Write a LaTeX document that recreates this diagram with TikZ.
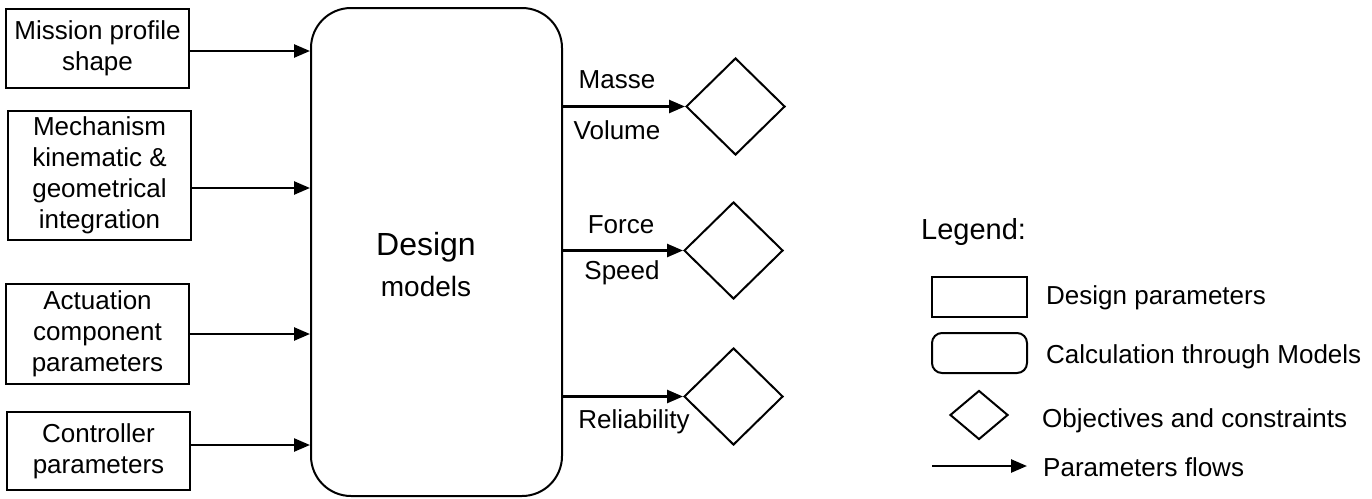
\documentclass[tikz,border=0pt]{standalone}
\usepackage{fontspec}
\setmainfont{Liberation Sans}
\usetikzlibrary{shapes.geometric,arrows.meta}
\begin{document}
\begin{tikzpicture}[x=1pt,y=-1pt,
  every node/.style={font=\fontsize{26}{31}\selectfont},
  parambox/.style={draw,line width=2pt,rectangle,inner sep=0pt,align=center},
  modelbox/.style={draw,line width=2pt,rectangle,rounded corners=40pt,inner sep=0pt,align=center},
  objective/.style={draw,line width=2pt,diamond,inner sep=0pt,aspect=1},
  flow/.style={line width=2.5pt,-{Triangle[length=16pt,width=13pt]}},
  txt/.style={inner sep=0pt}]
\useasboundingbox (0,0) rectangle (1372,498);
% inputs
\node[parambox,minimum width=183pt,minimum height=79pt] (b1) at (97.5,48.5) {Mission profile\\shape};
\node[parambox,minimum width=183pt,minimum height=129pt] (b2) at (99.5,175.5) {Mechanism\\kinematic \&\\geometrical\\integration};
\node[parambox,minimum width=183pt,minimum height=100pt] (b3) at (97.5,334) {Actuation\\component\\parameters};
\node[parambox,minimum width=183pt,minimum height=78pt] (b4) at (98.5,451) {Controller\\parameters};
% model
\node[modelbox,minimum width=251pt,minimum height=488pt] (big) at (436.5,252) {};
\node[txt,font=\fontsize{32}{40}\selectfont] (dtxt) at (426,247) {Design};
\node[txt,font=\fontsize{28}{34}\selectfont] (mtxt) at (426,286) {models};
% objectives
\node[objective,minimum width=99pt,minimum height=97pt] (d1) at (735.5,106.5) {};
\node[objective,minimum width=99pt,minimum height=97pt] (d2) at (733.5,250.5) {};
\node[objective,minimum width=99pt,minimum height=97pt] (d3) at (733.5,396.5) {};
% input flows
\draw[flow] (b1.east |- 0,51) -- (big.west |- 0,51);
\draw[flow] (b2.east |- 0,188) -- (big.west |- 0,188);
\draw[flow] (b3.east |- 0,334) -- (big.west |- 0,334);
\draw[flow] (b4.east |- 0,445) -- (big.west |- 0,445);
% output flows
\draw[flow] (big.east |- d1.west) -- (d1.west);
\draw[flow] (big.east |- d2.west) -- (d2.west);
\draw[flow] (big.east |- d3.west) -- (d3.west);
\node[txt] (l1a) at (617,80) {Masse};
\node[txt] (l1b) at (617,130) {Volume};
\node[txt] (l2a) at (621,225) {Force};
\node[txt] (l2b) at (622,273) {Speed};
\node[txt] (l3a) at (634,422) {Reliability};
% legend
\node[txt,anchor=west,font=\fontsize{29}{34}\selectfont] (leg) at (921,232) {Legend:};
\node[parambox,minimum width=95pt,minimum height=40pt] (lr) at (979.5,297) {};
\node[txt,anchor=west] (lrt) at (1046,298) {Design parameters};
\node[modelbox,rounded corners=10pt,minimum width=95pt,minimum height=40pt] (lm) at (979.5,353) {};
\node[txt,anchor=west] (lmt) at (1046,357) {Calculation through Models};
\node[objective,minimum width=58pt,minimum height=49pt] (ld) at (979,415) {};
\node[txt,anchor=west] (ldt) at (1042,421) {Objectives and constraints};
\coordinate (la) at (932,466);
\coordinate (lb) at (1027,466);
\draw[flow] (la) -- (lb);
\node[txt,anchor=west] (lat) at (1043,467) {Parameters flows};
\end{tikzpicture}
\end{document}
